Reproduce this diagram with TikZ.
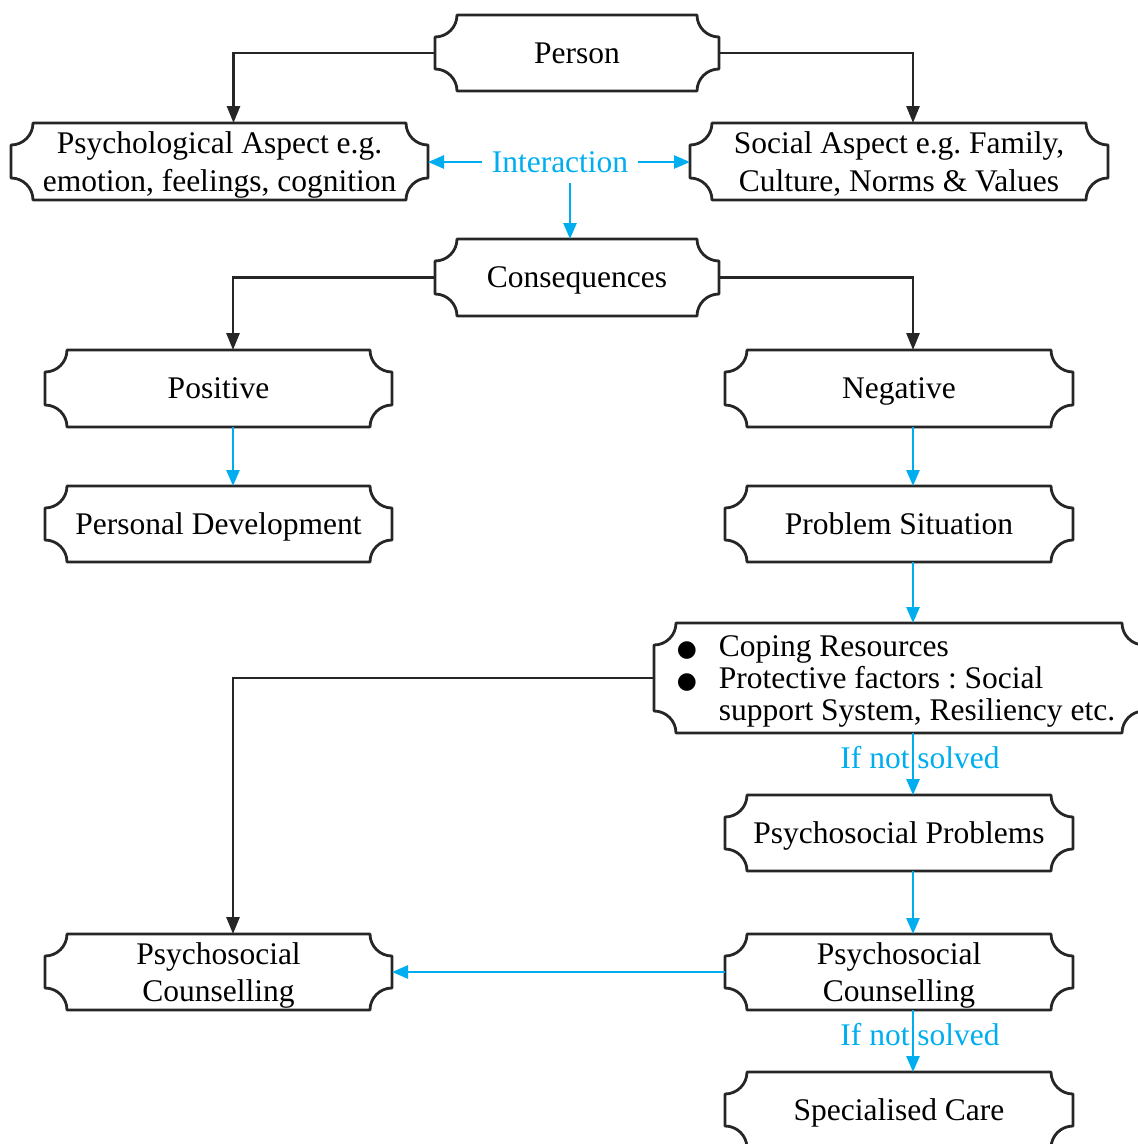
\documentclass[tikz,border=0pt]{standalone}
\usepackage{fontspec}
\setmainfont{Liberation Serif}
\newfontfamily\symfont{DejaVu Sans}
\usetikzlibrary{arrows.meta,calc}
\definecolor{flowblue}{RGB}{0,174,239}
\newcommand\bul{\makebox[20pt][l]{\hspace{-6pt}\symfont\fontsize{23}{23}\selectfont ●}}
\frenchspacing
\begin{document}
\begin{tikzpicture}[x=1pt,y=1pt,
  box/.style={rectangle, inner sep=0pt, outer sep=0pt, align=center,
    text depth=0pt, font=\fontsize{31.5}{37.5}\selectfont},
  listbox/.style={rectangle, inner sep=0pt, outer sep=0pt,
    font=\fontsize{31.5}{32}\selectfont},
  outline/.style={draw=black!85, line width=2.8pt, line join=round},
  blacklink/.style={draw=black!85, line width=2.8pt,
    -{Triangle[length=17pt,width=13pt]}},
  bluelink/.style={draw=flowblue, line width=2.6pt,
    -{Triangle[length=16pt,width=13pt]}},
  bluetext/.style={text=flowblue, font=\fontsize{31.5}{37.5}\selectfont, inner sep=0pt}
]
\useasboundingbox (0,0) rectangle (1138,-1144);

% boxes
\node[box, minimum width=284, minimum height=76] (person) at (577,-53) {Person};
\node[box, minimum width=417, minimum height=77] (psy) at (219.5,-161.5)
  {Psychological Aspect e.g.\\emotion, feelings, cognition};
\node[box, minimum width=418, minimum height=77] (soc) at (899,-161.5)
  {Social Aspect e.g. Family,\\Culture, Norms \& Values};
\node[box, minimum width=284, minimum height=77] (cons) at (577,-277.5) {Consequences};
\node[box, minimum width=347, minimum height=77] (pos) at (218.5,-388.5) {Positive};
\node[box, minimum width=348, minimum height=77] (neg) at (899,-388.5) {Negative};
\node[box, minimum width=347, minimum height=76] (pd) at (218.5,-524) {Personal Development};
\node[box, minimum width=348, minimum height=76] (ps) at (899,-524) {Problem Situation};
\node[listbox, minimum width=490, minimum height=110] (cope) at (899,-678)
  {\begin{tabular}{@{}l@{\hspace{16pt}}l@{}}
     \rule{0pt}{30.4pt}\bul & Coping Resources\\
     \bul & Protective factors : Social\\
         & support System, Resiliency etc.
   \end{tabular}};
\node[box, minimum width=348, minimum height=76] (pp) at (899,-833) {Psychosocial Problems};
\node[box, minimum width=348, minimum height=76] (pcR) at (899,-972) {Psychosocial\\Counselling};
\node[box, minimum width=347, minimum height=76] (pcL) at (218.5,-972) {Psychosocial\\Counselling};
\node[box, minimum width=348, minimum height=76] (sc) at (899,-1110) {Specialised Care};

% concave-cornered outlines
\foreach \n in {person,psy,soc,cons,pos,neg,pd,ps,cope,pp,pcR,pcL,sc}{
  \draw[outline] ($(\n.north west)+(22,0)$) -- ($(\n.north east)+(-22,0)$)
    arc[start angle=180,end angle=270,radius=22] -- ($(\n.south east)+(0,22)$)
    arc[start angle=90,end angle=180,radius=22] -- ($(\n.south west)+(22,0)$)
    arc[start angle=0,end angle=90,radius=22] -- ($(\n.north west)+(0,-22)$)
    arc[start angle=270,end angle=360,radius=22] -- cycle;
}

% interaction
\node[bluetext, inner xsep=10pt, inner ysep=10pt] (inter) at (560,-162) {Interaction};
\draw[bluelink] (inter.west) -- (psy.east |- inter.west);
\draw[bluelink] (inter.east) -- (soc.west |- inter.east);
\draw[bluelink] ([xshift=10pt]inter.south) -- ([xshift=-7pt]cons.north);

% black connectors
\draw[blacklink] (person.west) -| ([xshift=14pt]psy.north);
\draw[blacklink] (person.east) -| ([xshift=14pt]soc.north);
\draw[blacklink] (cons.west) -| ([xshift=14.5pt]pos.north);
\draw[blacklink] (cons.east) -| ([xshift=14pt]neg.north);
\draw[blacklink] (cope.west) -| ([xshift=14.5pt]pcL.north);

% blue connectors
\draw[bluelink] ([xshift=14.5pt]pos.south) -- ([xshift=14.5pt]pd.north);
\draw[bluelink] ([xshift=14pt]neg.south) -- ([xshift=14pt]ps.north);
\draw[bluelink] ([xshift=14pt]ps.south) -- ([xshift=14pt]cope.north);
\draw[bluelink] ([xshift=14pt]cope.south) -- ([xshift=14pt]pp.north);
\draw[bluelink] ([xshift=14pt]pp.south) -- ([xshift=14pt]pcR.north);
\draw[bluelink] ([xshift=14pt]pcR.south) -- ([xshift=14pt]sc.north);
\draw[bluelink] (pcR.west) -- (pcL.east);

% labels on the vertical links
\node[bluetext] (ns1) at (920,-758) {If not solved};
\node[bluetext] (ns2) at (920,-1035) {If not solved};
\end{tikzpicture}
\end{document}
